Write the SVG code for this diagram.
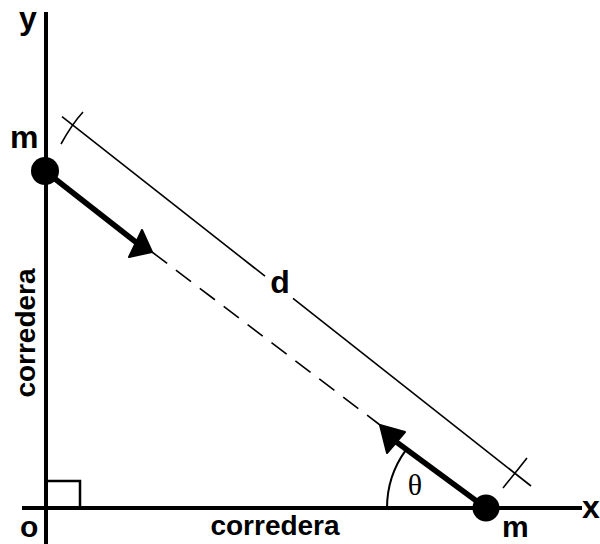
<svg xmlns="http://www.w3.org/2000/svg" width="600" height="544" viewBox="0 0 600 544">
<style>
.lbl{font-family:"Liberation Sans",Arial,sans-serif;font-weight:bold;fill:#000}
.axis{stroke:#000;stroke-width:4;fill:none}
.thin{stroke:#000;stroke-width:1.6;fill:none}
.thick{stroke:#000;stroke-width:5.5;fill:none}
</style>
<rect width="600" height="544" fill="#fff"/>
<g id="axes">
<line class="axis" x1="46" y1="12" x2="46" y2="544"/>
<line class="axis" x1="22" y1="508" x2="582" y2="508"/>
<path d="M46 481 H80 V508" stroke="#000" stroke-width="2.5" fill="none"/>
</g>
<g id="connectors">
<line class="thin" x1="62" y1="116.7" x2="265" y2="276.2"/>
<line class="thin" x1="293" y1="298.4" x2="531" y2="486"/>
<path class="thin" d="M83 112 Q72 124 61 144"/>
<path class="thin" d="M527 458 Q516 472 503 488"/>
<line class="thin" x1="152" y1="252" x2="380" y2="425" stroke-dasharray="19 11"/>
<line class="thick" x1="45" y1="171" x2="137" y2="243"/>
<polygon points="152,252 142,230 129,257" fill="#000" stroke="#000" stroke-width="2" stroke-linejoin="round"/>
<line class="thick" x1="486" y1="508" x2="395" y2="441"/>
<polygon points="380,425 387,453 405,432" fill="#000" stroke="#000" stroke-width="2" stroke-linejoin="round"/>
<path d="M387 508 A99 99 0 0 1 406 449.8" stroke="#000" stroke-width="2" fill="none"/>
</g>
<g id="mass-top"><circle cx="45" cy="171" r="14" fill="#000"/></g>
<g id="mass-bottom"><circle cx="486" cy="508" r="13.5" fill="#000"/></g>
<g id="labels">
<text class="lbl" x="19" y="29" font-size="32">y</text>
<text class="lbl" x="10" y="148" font-size="32">m</text>
<text class="lbl" x="20" y="537" font-size="30">o</text>
<text class="lbl" x="502" y="537" font-size="30">m</text>
<text class="lbl" x="582" y="518" font-size="32">x</text>
<text class="lbl" x="280" y="293" font-size="32" text-anchor="middle">d</text>
<text class="lbl" x="275" y="535" font-size="28" text-anchor="middle">corredera</text>
<text class="lbl" transform="translate(35 333) rotate(-90)" font-size="28" text-anchor="middle">corredera</text>
<text x="415" y="495" font-family="'Liberation Serif','Times New Roman',serif" font-size="30" text-anchor="middle">θ</text>
</g>
</svg>
